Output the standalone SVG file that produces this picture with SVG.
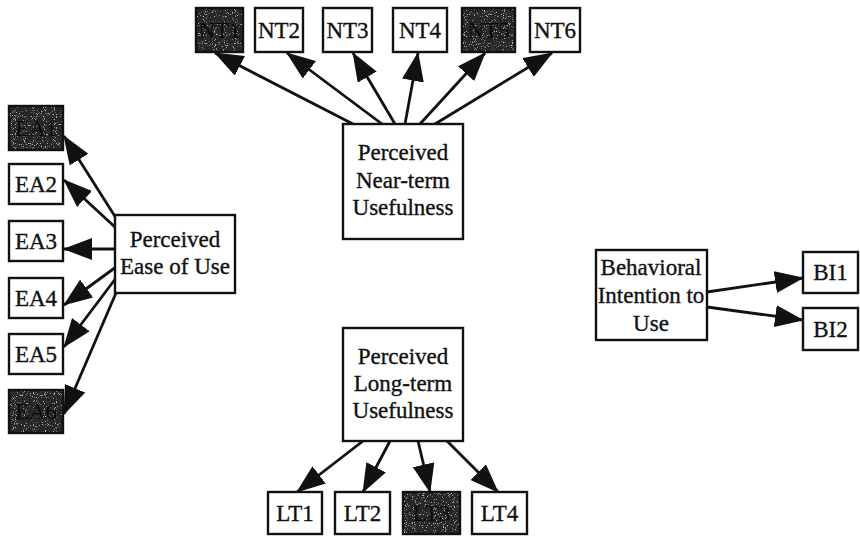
<svg xmlns="http://www.w3.org/2000/svg" width="860" height="537" viewBox="0 0 860 537">
  <defs>
    <style>
      .box { fill: #ffffff; stroke: #111111; stroke-width: 2.4; }
      .dark { fill: #262626; stroke: #111111; stroke-width: 2.4; }
      .grain { fill: #b5b5b5; filter: url(#speckle); }
      .lbl { font-family: "Liberation Serif", "Times New Roman", serif; font-size: 23px; fill: #111111; stroke: #111111; stroke-width: 0.35; text-anchor: middle; }
      .dlbl { font-family: "Liberation Serif", "Times New Roman", serif; font-size: 23px; fill: #0a0a0a; text-anchor: middle; }
      .edge { stroke: #111111; stroke-width: 2.8; fill: none; marker-end: url(#head); }
    </style>
    <marker id="head" markerUnits="userSpaceOnUse" markerWidth="29" markerHeight="22" refX="28" refY="11" orient="auto">
      <path d="M0,0 L29,11 L0,22 z" fill="#111111"/>
    </marker>
    <!-- light speckles scattered over the shaded boxes -->
    <filter id="speckle" x="0" y="0" width="100%" height="100%">
      <feTurbulence type="fractalNoise" baseFrequency="0.9" numOctaves="1" seed="7" result="n"/>
      <feColorMatrix in="n" type="matrix" values="0 0 0 0 0  0 0 0 0 0  0 0 0 0 0  9 0 0 0 -5.3" result="m"/>
      <feComposite in="SourceGraphic" in2="m" operator="in"/>
    </filter>
  </defs>

  <!-- connectors -->
  <g id="connectors">
    <!-- near-term usefulness items -->
    <line class="edge" x1="353" y1="124" x2="215" y2="53"/>
    <line class="edge" x1="382" y1="124" x2="287" y2="53"/>
    <line class="edge" x1="395" y1="124" x2="353" y2="53"/>
    <line class="edge" x1="405" y1="124" x2="418" y2="53"/>
    <line class="edge" x1="420" y1="124" x2="485" y2="53"/>
    <line class="edge" x1="435" y1="124" x2="552" y2="53"/>
    <!-- ease of use items -->
    <line class="edge" x1="116" y1="218" x2="64" y2="136"/>
    <line class="edge" x1="116" y1="228" x2="64" y2="180"/>
    <line class="edge" x1="116" y1="249" x2="64" y2="249"/>
    <line class="edge" x1="116" y1="267" x2="64" y2="305"/>
    <line class="edge" x1="116" y1="278" x2="64" y2="347"/>
    <line class="edge" x1="116" y1="293" x2="64" y2="414"/>
    <!-- long-term usefulness items -->
    <line class="edge" x1="363" y1="441" x2="297" y2="492"/>
    <line class="edge" x1="390" y1="441" x2="363" y2="492"/>
    <line class="edge" x1="418" y1="441" x2="430" y2="492"/>
    <line class="edge" x1="447" y1="441" x2="498" y2="492"/>
    <!-- behavioral intention items -->
    <line class="edge" x1="707" y1="292" x2="803" y2="278"/>
    <line class="edge" x1="707" y1="307" x2="803" y2="320"/>
  </g>

  <!-- constructs -->
  <g id="near-term">
    <rect class="box" x="343" y="124" width="120" height="115"/>
    <text class="lbl" x="403" y="160">Perceived</text>
    <text class="lbl" x="403" y="188">Near-term</text>
    <text class="lbl" x="403" y="215">Usefulness</text>
  </g>
  <g id="ease-of-use">
    <rect class="box" x="115" y="215" width="120" height="78"/>
    <text class="lbl" x="175" y="247">Perceived</text>
    <text class="lbl" x="175" y="274">Ease of Use</text>
  </g>
  <g id="long-term">
    <rect class="box" x="343" y="328" width="120" height="113"/>
    <text class="lbl" x="403" y="364">Perceived</text>
    <text class="lbl" x="403" y="391">Long-term</text>
    <text class="lbl" x="403" y="418">Usefulness</text>
  </g>
  <g id="intention">
    <rect class="box" x="596" y="250" width="111" height="90"/>
    <text class="lbl" x="651" y="275">Behavioral</text>
    <text class="lbl" x="651" y="303">Intention to</text>
    <text class="lbl" x="651" y="331">Use</text>
  </g>

  <!-- near-term items -->
  <g id="NT1">
    <rect class="dark" x="196" y="8" width="47" height="44"/>
    <rect class="grain" x="197" y="9" width="45" height="42"/>
    <text class="dlbl" x="219.5" y="38">NT1</text>
  </g>
  <g id="NT2">
    <rect class="box" x="255" y="8" width="48" height="44"/>
    <text class="lbl" x="279" y="38">NT2</text>
  </g>
  <g id="NT3">
    <rect class="box" x="323" y="8" width="49" height="44"/>
    <text class="lbl" x="347.5" y="38">NT3</text>
  </g>
  <g id="NT4">
    <rect class="box" x="393" y="8" width="54" height="44"/>
    <text class="lbl" x="420" y="38">NT4</text>
  </g>
  <g id="NT5">
    <rect class="dark" x="462" y="8" width="53" height="44"/>
    <rect class="grain" x="463" y="9" width="51" height="42"/>
    <text class="dlbl" x="488.5" y="38">NT5</text>
  </g>
  <g id="NT6">
    <rect class="box" x="530" y="8" width="50" height="44"/>
    <text class="lbl" x="555" y="38">NT6</text>
  </g>

  <!-- ease of use items -->
  <g id="EA1">
    <rect class="dark" x="9" y="106" width="54" height="44"/>
    <rect class="grain" x="10" y="107" width="52" height="42"/>
    <text class="dlbl" x="36" y="136">EA1</text>
  </g>
  <g id="EA2">
    <rect class="box" x="9" y="164" width="54" height="40"/>
    <text class="lbl" x="36" y="192">EA2</text>
  </g>
  <g id="EA3">
    <rect class="box" x="9" y="221" width="54" height="40"/>
    <text class="lbl" x="36" y="249">EA3</text>
  </g>
  <g id="EA4">
    <rect class="box" x="9" y="278" width="54" height="40"/>
    <text class="lbl" x="36" y="306">EA4</text>
  </g>
  <g id="EA5">
    <rect class="box" x="9" y="334" width="54" height="40"/>
    <text class="lbl" x="36" y="362">EA5</text>
  </g>
  <g id="EA6">
    <rect class="dark" x="9" y="390" width="54" height="43"/>
    <rect class="grain" x="10" y="391" width="52" height="41"/>
    <text class="dlbl" x="36" y="419">EA6</text>
  </g>

  <!-- long-term items -->
  <g id="LT1">
    <rect class="box" x="268" y="492" width="54" height="42"/>
    <text class="lbl" x="295" y="521">LT1</text>
  </g>
  <g id="LT2">
    <rect class="box" x="335" y="492" width="55" height="42"/>
    <text class="lbl" x="362.5" y="521">LT2</text>
  </g>
  <g id="LT3">
    <rect class="dark" x="403" y="492" width="57" height="42"/>
    <rect class="grain" x="404" y="493" width="55" height="40"/>
    <text class="dlbl" x="431.5" y="521">LT3</text>
  </g>
  <g id="LT4">
    <rect class="box" x="472" y="492" width="55" height="42"/>
    <text class="lbl" x="499.5" y="521">LT4</text>
  </g>

  <!-- intention items -->
  <g id="BI1">
    <rect class="box" x="803" y="252" width="55" height="41"/>
    <text class="lbl" x="830.5" y="280">BI1</text>
  </g>
  <g id="BI2">
    <rect class="box" x="803" y="308" width="55" height="42"/>
    <text class="lbl" x="830.5" y="337">BI2</text>
  </g>
</svg>
